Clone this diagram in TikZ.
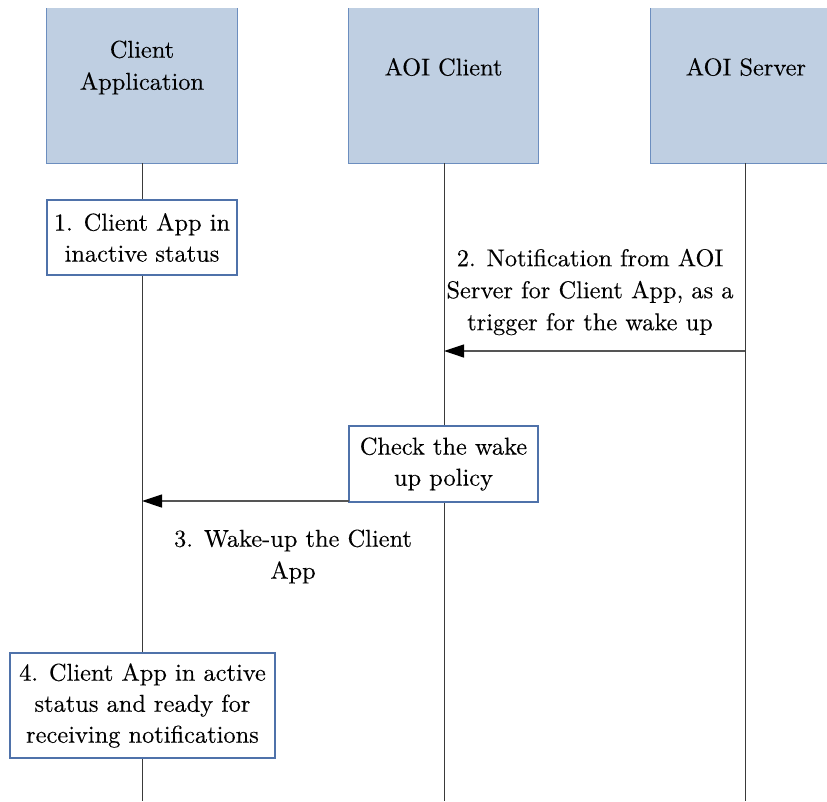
\documentclass[tikz,border=0pt]{standalone}
\usepackage{fontspec}
\setmainfont{lmroman10-regular.otf}[FakeBold=0.25]
\usetikzlibrary{arrows.meta}
\definecolor{hdrfill}{HTML}{BFCFE2}
\definecolor{hdrline}{HTML}{6C8EBF}
\definecolor{boxline}{HTML}{4F72AA}
\definecolor{lifeline}{HTML}{3A3A3A}
\definecolor{msgline}{HTML}{555555}
\tikzset{
  hdrbox/.style={fill=hdrfill, draw=none, minimum width=#1, minimum height=155pt, inner sep=0pt, anchor=north},
  hdrtext/.style={align=center, inner sep=0pt, font=\fontsize{24.4}{32}\selectfont},
  stepbox/.style={draw=boxline, line width=1.1pt, fill=white, align=center, inner sep=0pt, font=\fontsize{24.4}{31}\selectfont},
  lbl/.style={align=center, inner sep=0pt, font=\fontsize{24.4}{32}\selectfont},
  life/.style={draw=lifeline, line width=1pt},
  msg/.style={draw=msgline, line width=1.2pt, -{Triangle[length=20pt,width=13pt,color=black]}}
}
\begin{document}
\begin{tikzpicture}[x=1pt,y=-1pt]
\useasboundingbox (0,0) rectangle (827,801);
% headers
\node[hdrbox=190pt] (h1) at (142,8) {};
\node[hdrbox=189pt] (h2) at (443.5,8) {};
\node[hdrbox=190pt] (h3) at (746,8) {};
\foreach \h in {h1,h2,h3}{
  \draw[hdrline, line width=1.1pt] (\h.north west) -- (\h.south west) -- (\h.south east) -- (\h.north east);
}
\node[hdrtext] (t1) at (142,67.5) {Client\\Application};
\node[hdrtext] (t2) at (443.5,67) {AOI Client};
\node[hdrtext] (t3) at (746,67) {AOI Server};
% lifelines
\coordinate (e1) at (142,801);
\coordinate (e2) at (444,801);
\coordinate (e3) at (745,801);
\draw[life] (h1.south -| e1) -- (e1);
\draw[life] (h2.south -| e2) -- (e2);
\draw[life] (h3.south -| e3) -- (e3);
% step boxes
\node[stepbox, minimum width=190pt, minimum height=75pt] (b1) at (142,237.5) {1. Client App in\\inactive status};
\node[stepbox, minimum width=189pt, minimum height=76pt] (b2) at (443.5,464) {Check the wake\\up policy};
\node[stepbox, minimum width=265pt, minimum height=105pt] (b4) at (142.5,705.5) {4. Client App in active\\status and ready for\\receiving notifications};
% message 2
\coordinate (s2) at (745,351);
\coordinate (d2) at (444,351);
\draw[msg] (s2) -- (d2);
\node[lbl] (l2) at (590,292) {2. Notification from AOI\\Server for Client App, as a\\trigger for the wake up};
% message 3
\coordinate (s3) at (349,501);
\coordinate (d3) at (142,501);
\draw[msg] (s3) -- (d3);
\node[lbl] (l3) at (293,556.5) {3. Wake-up the Client\\App};
\end{tikzpicture}
\end{document}
